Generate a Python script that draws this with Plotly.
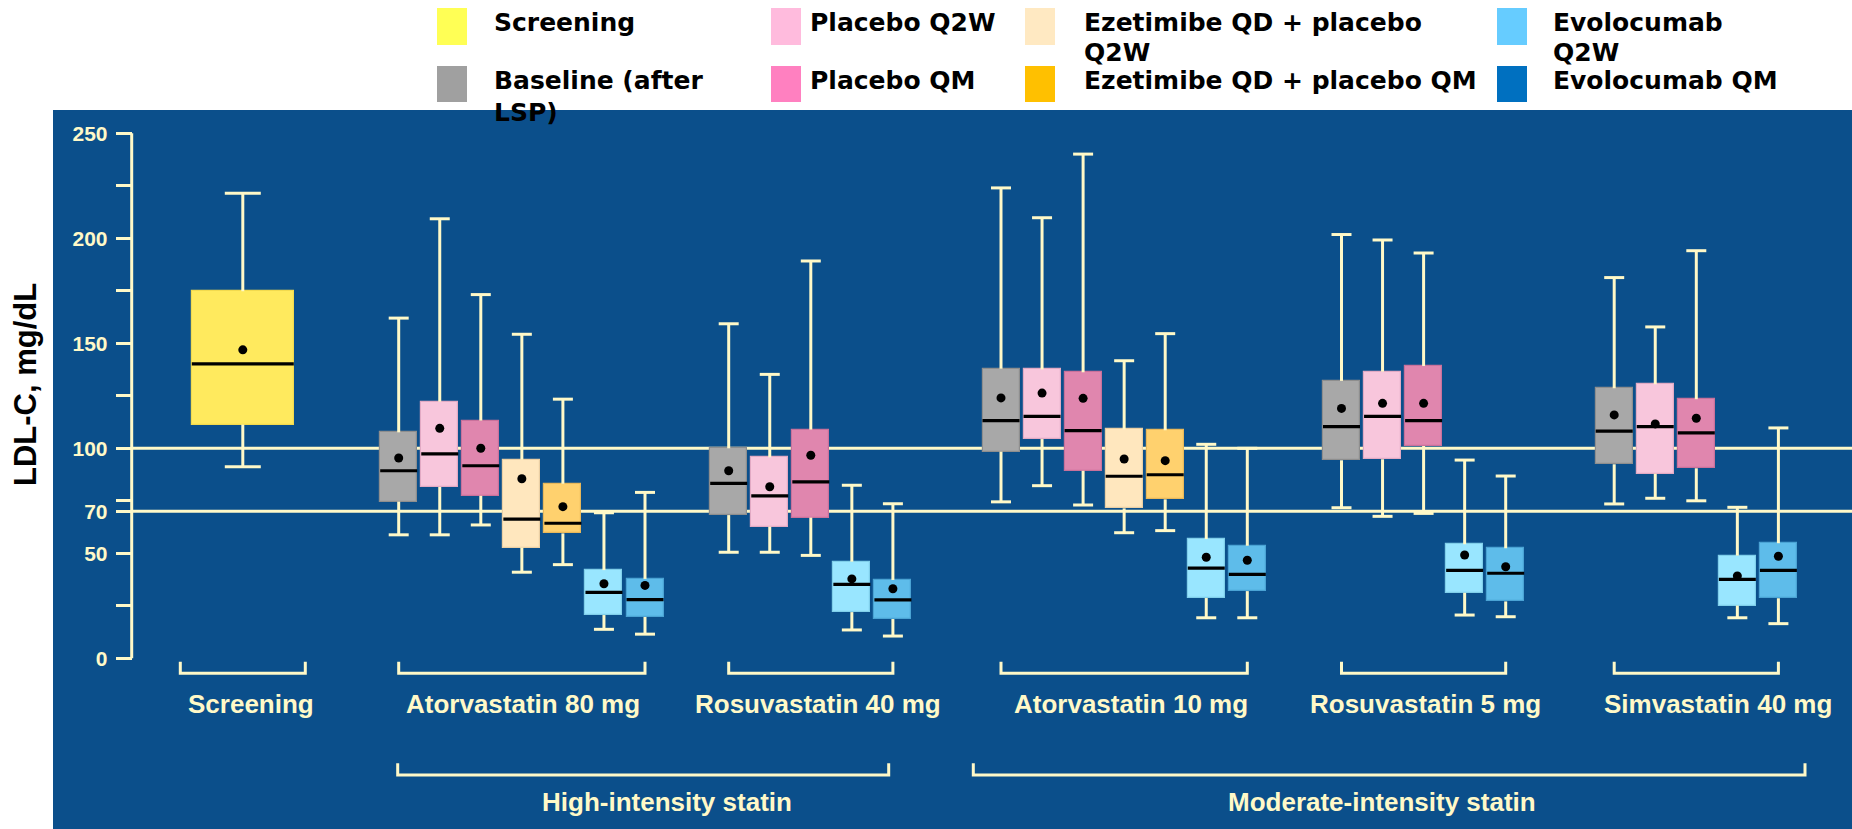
import plotly.graph_objects as go

# ---------------- data ----------------
ARMS = ["Screening", "Baseline (after LSP)", "Placebo Q2W", "Placebo QM",
        "Ezetimibe QD + placebo Q2W", "Ezetimibe QD + placebo QM",
        "Evolocumab Q2W", "Evolocumab QM"]

GROUPS = ["Screening", "Atorvastatin 80 mg", "Rosuvastatin 40 mg",
          "Atorvastatin 10 mg", "Rosuvastatin 5 mg", "Simvastatin 40 mg"]
# arm index of every box, group by group
GROUP_ARMS = [[0],
              [1, 2, 3, 4, 5, 6, 7],
              [1, 2, 3, 6, 7],
              [1, 2, 3, 4, 5, 6, 7],
              [1, 2, 3, 6, 7],
              [1, 2, 3, 6, 7]]

SUPER_GROUPS = ["High-intensity statin", "Moderate-intensity statin"]

# LDL-C summary statistics (mg/dL), one entry per box in the order above
LOWER = [91.2,
         58.8, 58.8, 63.5, 41.0, 44.6, 13.8, 11.5,
         50.5, 50.5, 49.0, 13.5, 10.6,
         74.5, 82.2, 73.0, 59.8, 60.8, 19.3, 19.3,
         71.7, 67.6, 69.0, 20.6, 19.8,
         73.5, 76.2, 75.0, 19.3, 16.5]
Q1 = [111.3,
      74.6, 81.6, 77.4, 52.7, 59.5, 20.6, 19.7,
      68.2, 62.7, 67.0, 22.0, 18.7,
      98.4, 104.4, 89.3, 71.4, 75.7, 28.7, 32.0,
      94.3, 94.8, 101.1, 31.2, 27.1,
      92.4, 87.9, 90.5, 25.1, 28.6]
MEDIAN = [140.2,
          89.3, 97.3, 91.7, 66.3, 64.3, 31.4, 27.9,
          83.3, 77.3, 84.0, 35.2, 27.8,
          113.2, 115.2, 108.4, 86.7, 87.4, 42.9, 40.0,
          110.3, 115.2, 113.2, 41.9, 40.5,
          108.2, 110.3, 107.3, 37.6, 41.9]
MEAN = [146.9,
        95.4, 109.5, 100.0, 85.5, 72.2, 35.5, 34.7,
        89.3, 81.7, 96.7, 37.8, 33.1,
        124.0, 126.3, 123.8, 94.9, 94.1, 48.1, 46.7,
        119.0, 121.4, 121.4, 49.2, 43.6,
        115.9, 111.6, 114.3, 39.2, 48.6]
Q3 = [174.8,
      107.6, 122.2, 113.2, 94.6, 83.1, 42.0, 37.8,
      100.0, 95.7, 108.9, 46.0, 37.3,
      137.9, 137.6, 136.2, 109.1, 108.6, 56.8, 53.6,
      132.1, 136.5, 139.2, 54.3, 52.4,
      128.6, 130.5, 123.4, 48.9, 54.8]
UPPER = [221.5,
         162.0, 209.3, 173.2, 154.3, 123.4, 69.3, 79.0,
         159.3, 135.2, 189.2, 82.4, 73.6,
         224.0, 209.8, 240.1, 141.7, 154.6, 101.9, 100.0,
         201.8, 199.2, 193.0, 94.4, 86.8,
         181.3, 157.8, 194.1, 71.9, 109.7]

Y_TICKS = [0, 25, 50, 70, 75, 100, 125, 150, 175, 200, 225, 250]
Y_TICK_TEXT = ["0", "", "50", "70", "", "100", "", "150", "", "200", "", "250"]
REF_LINES = [100, 70]

# ---------------- styling ----------------
W, H = 1852, 829
ML, MT = 53, 110
BG = "#0B4F8B"
CREAM = "#FFF9C8"
BOX_FILL = ["#FFEA5E", "#A8A8A8", "#F8C6DC", "#E086AE",
            "#FFE7BE", "#FFD16E", "#99E6FF", "#5EBCEA"]
BOX_EDGE = ["#F2DA4E", "#8E8E8E", "#E2AAC4", "#C9719B",
            "#EACFA4", "#E8B85A", "#80CFEA", "#4AA3D4"]
SWATCH = ["#FFFF55", "#A0A0A0", "#FFBBDD", "#FF80C0",
          "#FFE9C2", "#FFC000", "#66CCFF", "#0070C0"]

LABEL_FONT = "Liberation Sans, Arial, sans-serif"
LEGEND_FONT = "DejaVu Sans, sans-serif"

# horizontal layout (x axis runs in screen-like units)
GROUP_X0 = [242.8, 398.7, 728.7, 1001.0, 1341.5, 1614.2]
SLOT = 41.05
BOX_W = 37.0
SCREEN_W = 102.0
CAP = 20.0
SCREEN_CAP = 36.0
AXIS_X = 131.7
LABEL_X = [250.5, 523.0, 817.5, 1131.0, 1425.3, 1717.5]
SUPER_SPANS = [(397.7, 888.7), (973.3, 1805.0)]
SUPER_LABEL_X = [667.0, 1381.7]
Y_RANGE = [-81.29, 261.1]


def pxx(x):
    return (x - ML) / (W - ML)


def pxy(y):
    return (H - y) / (H - MT)


# ---------------- geometry of boxes ----------------
centers, arms_of_box, widths, caps, group_of_box = [], [], [], [], []
for g, arms in enumerate(GROUP_ARMS):
    for k, a in enumerate(arms):
        centers.append(GROUP_X0[g] + k * SLOT)
        arms_of_box.append(a)
        widths.append(SCREEN_W if a == 0 else BOX_W)
        caps.append(SCREEN_CAP if a == 0 else CAP)
        group_of_box.append(g)

fig = go.Figure()

# box bodies
for a in range(len(ARMS)):
    idx = [i for i, aa in enumerate(arms_of_box) if aa == a]
    fig.add_trace(go.Bar(
        x=[centers[i] for i in idx],
        base=[Q1[i] for i in idx],
        y=[Q3[i] - Q1[i] for i in idx],
        width=[widths[i] for i in idx],
        marker=dict(color=BOX_FILL[a], line=dict(color=BOX_EDGE[a], width=1.2)),
        name=ARMS[a], showlegend=False, hoverinfo="skip"))

# whiskers with caps
wx, wy = [], []
for i, c in enumerate(centers):
    h = caps[i] / 2
    wx += [c, c, None, c - h, c + h, None, c, c, None, c - h, c + h, None]
    wy += [Q3[i], UPPER[i], None, UPPER[i], UPPER[i], None,
           Q1[i], LOWER[i], None, LOWER[i], LOWER[i], None]
fig.add_trace(go.Scatter(x=wx, y=wy, mode="lines",
                         line=dict(color=CREAM, width=3),
                         showlegend=False, hoverinfo="skip"))

# medians
mx, my = [], []
for i, c in enumerate(centers):
    h = widths[i] / 2
    mx += [c - h, c + h, None]
    my += [MEDIAN[i], MEDIAN[i], None]
fig.add_trace(go.Scatter(x=mx, y=my, mode="lines",
                         line=dict(color="black", width=3.2),
                         showlegend=False, hoverinfo="skip"))

# means
fig.add_trace(go.Scatter(x=centers, y=MEAN, mode="markers",
                         marker=dict(color="black", size=9),
                         showlegend=False, hoverinfo="skip"))

shapes = []
# y spine and reference lines
shapes.append(dict(type="line", xref="x", yref="y", x0=AXIS_X, x1=AXIS_X,
                   y0=0, y1=250, line=dict(color=CREAM, width=3), layer="below"))
for v in REF_LINES:
    shapes.append(dict(type="line", xref="x", yref="y", x0=AXIS_X, x1=W,
                       y0=v, y1=v, line=dict(color=CREAM, width=3), layer="below"))

annotations = []
# group brackets and labels
for g, name in enumerate(GROUPS):
    gidx = [i for i, gg in enumerate(group_of_box) if gg == g]
    if len(gidx) == 1:
        i = gidx[0]
        x0 = centers[i] - widths[i] / 2 - 11.5
        x1 = centers[i] + widths[i] / 2 + 11.5
    else:
        x0, x1 = centers[gidx[0]], centers[gidx[-1]]
    yb, yt = pxy(673.3), pxy(661.7)
    shapes.append(dict(type="path", xref="x", yref="paper",
                       path=f"M {x0},{yt} L {x0},{yb} L {x1},{yb} L {x1},{yt}",
                       line=dict(color=CREAM, width=3)))
    annotations.append(dict(x=LABEL_X[g], y=pxy(703.5), xref="x", yref="paper",
                            text=name, showarrow=False, xanchor="center", yanchor="middle",
                            font=dict(family=LABEL_FONT, size=26, color=CREAM, weight="bold")))

for s, name in enumerate(SUPER_GROUPS):
    x0, x1 = SUPER_SPANS[s]
    yb, yt = pxy(775), pxy(763.3)
    shapes.append(dict(type="path", xref="x", yref="paper",
                       path=f"M {x0},{yt} L {x0},{yb} L {x1},{yb} L {x1},{yt}",
                       line=dict(color=CREAM, width=3)))
    annotations.append(dict(x=SUPER_LABEL_X[s], y=pxy(802), xref="x", yref="paper",
                            text=name, showarrow=False, xanchor="center", yanchor="middle",
                            font=dict(family=LABEL_FONT, size=26, color=CREAM, weight="bold")))

# y axis title
annotations.append(dict(x=pxx(25), y=pxy(385), xref="paper", yref="paper",
                        text="LDL-C, mg/dL", textangle=-90, showarrow=False,
                        xanchor="center", yanchor="middle",
                        font=dict(family=LABEL_FONT, size=31, color="black", weight="bold")))

# legend (two rows, four columns)
LEG_SWATCH_X = [437, 771, 1025, 1497]
LEG_TEXT_X = [492, 808, 1082, 1551]
LEG_ROW_Y = [(8, 45), (66, 102)]
LEG_LINES = [
    [["Screening"], ["Baseline (after", "LSP)"]],
    [["Placebo Q2W"], ["Placebo QM"]],
    [["Ezetimibe QD + placebo", "Q2W"], ["Ezetimibe QD + placebo QM"]],
    [["Evolocumab", "Q2W"], ["Evolocumab QM"]],
]
LINE_Y = [[23, 52], [80, 113]]
for col in range(4):
    for row in range(2):
        arm = col * 2 + row
        y0, y1 = LEG_ROW_Y[row]
        shapes.append(dict(type="rect", xref="paper", yref="paper",
                           x0=pxx(LEG_SWATCH_X[col]), x1=pxx(LEG_SWATCH_X[col] + 30),
                           y0=pxy(y1), y1=pxy(y0),
                           fillcolor=SWATCH[arm], line=dict(width=0)))
        for li, txt in enumerate(LEG_LINES[col][row]):
            annotations.append(dict(x=pxx(LEG_TEXT_X[col]), y=pxy(LINE_Y[row][li]),
                                    xref="paper", yref="paper", text=txt,
                                    showarrow=False, xanchor="left", yanchor="middle",
                                    font=dict(family=LEGEND_FONT, size=25, color="black",
                                              weight="bold")))

fig.update_layout(
    width=W, height=H,
    margin=dict(l=ML, r=0, t=MT, b=0, pad=0),
    paper_bgcolor="white", plot_bgcolor=BG,
    barmode="overlay", bargap=0,
    showlegend=False,
    shapes=shapes, annotations=annotations,
    xaxis=dict(range=[ML, W], visible=False, fixedrange=True),
    yaxis=dict(range=Y_RANGE, anchor="free", position=pxx(AXIS_X),
               showline=False, showgrid=False, zeroline=False,
               tickmode="array", tickvals=Y_TICKS, ticktext=Y_TICK_TEXT,
               ticks="outside", ticklen=16, tickwidth=3, tickcolor=CREAM,
               ticklabelstandoff=4,
               tickfont=dict(family=LABEL_FONT, size=21, color=CREAM, weight="bold"),
               fixedrange=True),
)

fig.write_html("out.html")
